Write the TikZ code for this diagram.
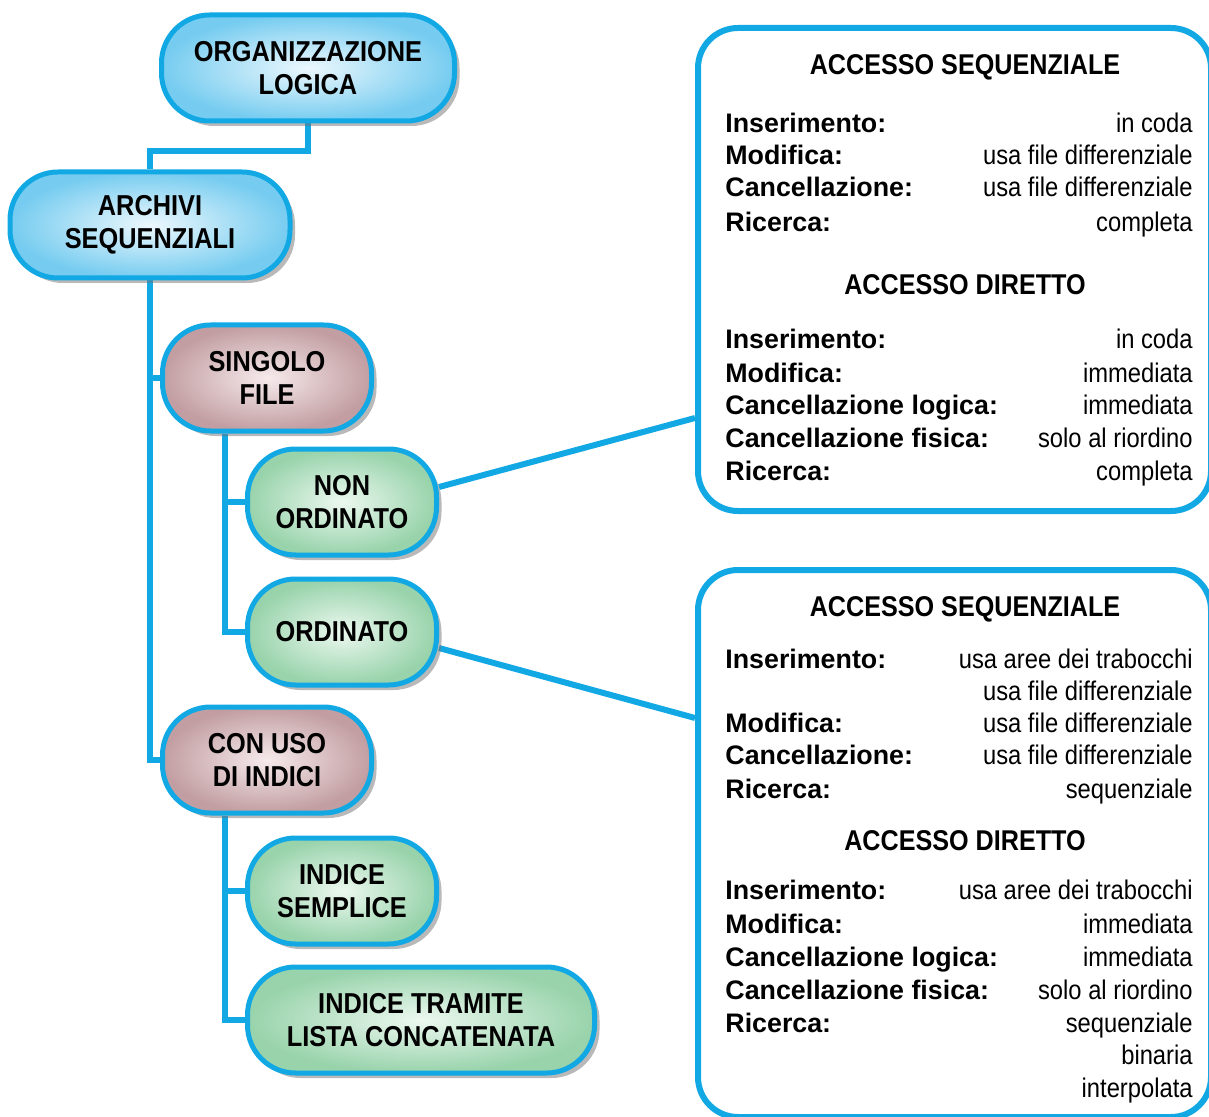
\documentclass[tikz,border=0pt]{standalone}
\usepackage{fontspec}
\setmainfont{Liberation Sans}
\newfontfamily\cond{Liberation Sans}[FakeStretch=0.88]
\usetikzlibrary{calc,shadows}
\pgfdeclarelayer{background}
\pgfsetlayers{background,main}

\definecolor{lineblue}{RGB}{18,168,228}
\definecolor{skyout}{RGB}{118,204,240}
\definecolor{skyin}{RGB}{236,248,253}
\definecolor{roseout}{RGB}{194,158,162}
\definecolor{rosein}{RGB}{246,234,235}
\definecolor{mintout}{RGB}{152,211,171}
\definecolor{mintin}{RGB}{236,248,239}

\tikzset{
  pill/.style={draw=lineblue, line width=2.5pt, rounded corners=24pt,
    minimum height=53pt, align=center, inner sep=2pt,
    font=\cond\bfseries\fontsize{14.4}{16.5}\selectfont,
    drop shadow={shadow xshift=2.5pt, shadow yshift=-2.5pt,
      fill=black!55, opacity=0.5}},
  skypill/.style={pill, shading=radial, inner color=skyin, outer color=skyout},
  rosepill/.style={pill, shading=radial, inner color=rosein, outer color=roseout},
  mintpill/.style={pill, shading=radial, inner color=mintin, outer color=mintout},
  conn/.style={draw=lineblue, line width=3pt},
  infobox/.style={draw=lineblue, line width=3pt, rounded corners=20pt,
    fill=white, anchor=north west, inner sep=0pt},
  boxhead/.style={anchor=base, inner sep=0pt,
    font=\cond\bfseries\fontsize{14.3}{16}\selectfont},
  boxlabel/.style={anchor=base west, inner sep=0pt,
    font=\bfseries\fontsize{13.4}{16}\selectfont},
  boxvalue/.style={anchor=base east, inner sep=0pt,
    font=\cond\fontsize{13.5}{16}\selectfont},
}

\begin{document}
\begin{tikzpicture}[x=0.5pt,y=-0.5pt]
\useasboundingbox (0,0) rectangle (1209,1117);

% concept nodes
\node[skypill, minimum width=146.5pt] (org) at (308,68) {ORGANIZZAZIONE\\LOGICA};
\node[skypill, minimum width=140pt] (arch) at (150,225) {ARCHIVI\\SEQUENZIALI};
\node[rosepill, minimum width=104.5pt] (sing) at (267,378) {SINGOLO\\FILE};
\node[mintpill, minimum width=94.5pt] (non) at (342,502) {NON\\ORDINATO};
\node[mintpill, minimum width=94.5pt] (ord) at (342,632) {ORDINATO};
\node[rosepill, minimum width=104.5pt] (con) at (267,760) {CON USO\\DI INDICI};
\node[mintpill, minimum width=94.5pt] (ind) at (342,891) {INDICE\\SEMPLICE};
\node[mintpill, minimum width=173.5pt] (lista) at (421,1020) {INDICE TRAMITE\\LISTA CONCATENATA};

% information boxes
\node[infobox, minimum width=256.5pt, minimum height=241.5pt] (box1) at (695,25) {};
\node[infobox, minimum width=256.5pt, minimum height=273.5pt] (box2) at (695,567) {};

% tree connectors
\begin{pgfonlayer}{background}
  \draw[conn] (org.south) -- ++(0,28) -| (arch.north);
  \draw[conn] (arch.south) |- (con.west);
  \draw[conn] (arch.south |- sing.west) -- (sing.west);
  \coordinate (st) at ($(sing.south)+(-42,0)$);
  \draw[conn] (st) |- (ord.west);
  \draw[conn] (st |- non.west) -- (non.west);
  \coordinate (ct) at ($(con.south)+(-42,0)$);
  \draw[conn] (ct) |- (lista.west);
  \draw[conn] (ct |- ind.west) -- (ind.west);
  \draw[conn] ($(non.east)+(0,-15)$) -- ($(box1.south west)+(0,-96)$);
  \draw[conn] ($(ord.east)+(0,16)$) -- ($(box2.north west)+(0,151)$);
\end{pgfonlayer}

% headings
\node[boxhead] (h1) at (965,75) {ACCESSO SEQUENZIALE};
\node[boxhead] (h2) at (965,295) {ACCESSO DIRETTO};
\node[boxhead] (h3) at (965,616) {ACCESSO SEQUENZIALE};
\node[boxhead] (h4) at (965,850) {ACCESSO DIRETTO};

% operation names
\foreach \y/\t [count=\i] in {
  124/Inserimento:, 156/Modifica:, 188/Cancellazione:, 223/Ricerca:,
  340/Inserimento:, 374/Modifica:, 406/Cancellazione logica:,
  438/Cancellazione fisica:, 471/Ricerca:,
  659/Inserimento:, 723/Modifica:, 755/Cancellazione:, 789/Ricerca:,
  890/Inserimento:, 924/Modifica:, 957/Cancellazione logica:,
  990/Cancellazione fisica:, 1023/Ricerca:}
  \node[boxlabel] (lab-\i) at (725,\y+9) {\t};

% operation costs
\foreach \y/\t [count=\i] in {
  124/in coda, 156/usa file differenziale, 188/usa file differenziale,
  223/completa, 340/in coda, 374/immediata, 406/immediata,
  438/solo al riordino, 471/completa,
  659/usa aree dei trabocchi, 691/usa file differenziale,
  723/usa file differenziale, 755/usa file differenziale, 789/sequenziale,
  890/usa aree dei trabocchi, 924/immediata, 957/immediata,
  990/solo al riordino, 1023/sequenziale, 1055/binaria, 1088/interpolata}
  \node[boxvalue] (val-\i) at (1193,\y+9) {\t};
\end{tikzpicture}
\end{document}
